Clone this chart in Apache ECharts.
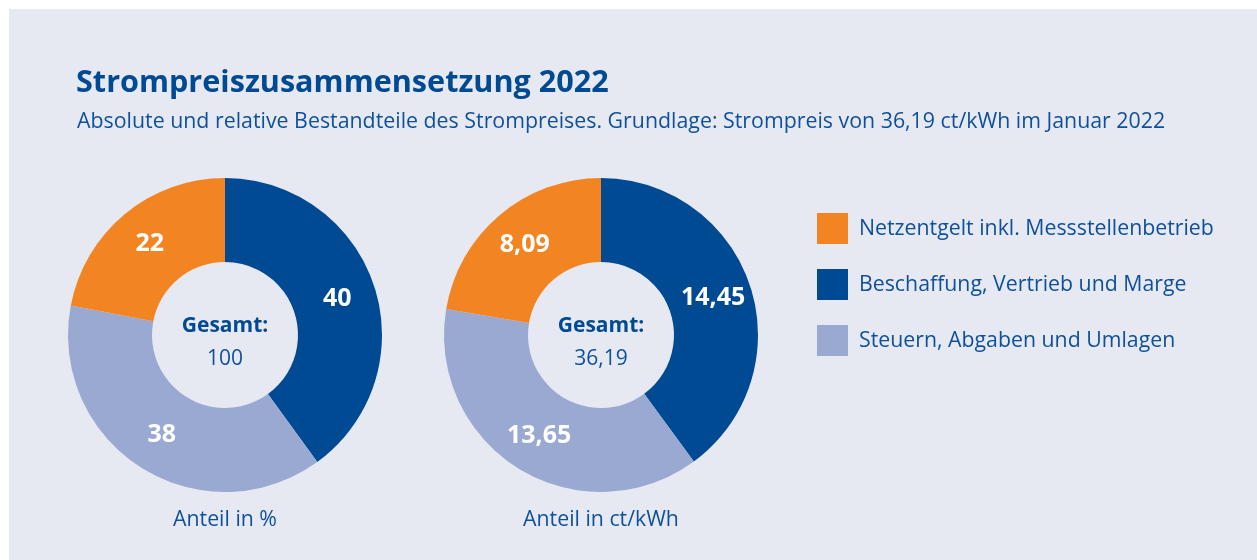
<!DOCTYPE html>
<html>
<head>
<meta charset="utf-8">
<script src="https://cdn.jsdelivr.net/npm/echarts@6/dist/echarts.min.js"></script>
<style>
html,body{margin:0;padding:0;background:#fff;}
#c{width:1257px;height:560px;}
</style>
</head>
<body>
<div id="c"></div>
<script>
const categories = ['Beschaffung, Vertrieb und Marge', 'Steuern, Abgaben und Umlagen', 'Netzentgelt inkl. Messstellenbetrieb'];
const legendOrder = ['Netzentgelt inkl. Messstellenbetrieb', 'Beschaffung, Vertrieb und Marge', 'Steuern, Abgaben und Umlagen'];
const pctValues = [40, 38, 22];
const ctValues = [14.45, 13.65, 8.09];
const pctTotal = '100';
const ctTotal = '36,19';
const colors = ['#004a93', '#9aa9d1', '#f38422'];

const FONT = '"Open Sans", "Noto Sans", sans-serif';
const TXT = '#0f509b';
const BOLD = '#004a93';

function fmt(v, dec) { return v.toFixed(dec).replace('.', ','); }

function pie(center, values, dec) {
  return {
    type: 'pie',
    center: center,
    radius: [73, 157],
    startAngle: 90,
    clockwise: true,
    avoidLabelOverlap: false,
    emphasis: { disabled: true },
    itemStyle: { borderWidth: 0 },
    label: {
      show: true,
      position: 'inside',
      color: '#fff',
      fontFamily: FONT,
      fontWeight: 'bold',
      fontSize: 25,
      formatter: p => fmt(p.value, dec)
    },
    labelLine: { show: false },
    data: categories.map((n, i) => ({ name: n, value: values[i], itemStyle: { color: colors[i] } }))
  };
}

function textAt(x, y, text, size, weight, color, align) {
  return { left: x, top: y, textAlign: align || 'center', text: text, padding: 0,
    textStyle: { fontFamily: FONT, fontSize: size, fontWeight: weight, color: color } };
}

const chart = echarts.init(document.getElementById('c'), null, { renderer: 'canvas' });
chart.setOption({
  backgroundColor: '#ffffff',
  animation: false,
  graphic: [{ type: 'rect', z: -10, shape: { x: 9, y: 9, width: 1300, height: 600 }, style: { fill: '#e6e9f2' } }],
  title: [
    textAt(76, 68, 'Strompreiszusammensetzung 2022', 30.6, 'bold', BOLD, 'left'),
    textAt(77, 111, 'Absolute und relative Bestandteile des Strompreises. Grundlage: Strompreis von 36,19 ct/kWh im Januar 2022', 21.35, 'normal', TXT, 'left'),
    textAt(225, 316, 'Gesamt:', 21, 'bold', BOLD),
    textAt(225, 349, pctTotal, 21, 'normal', TXT),
    textAt(601, 316, 'Gesamt:', 21, 'bold', BOLD),
    textAt(601, 349, ctTotal, 21, 'normal', TXT),
    textAt(225, 509, 'Anteil in %', 21.3, 'normal', TXT),
    textAt(601, 509, 'Anteil in ct/kWh', 21.3, 'normal', TXT)
  ],
  legend: {
    orient: 'vertical',
    left: 817,
    top: 213,
    padding: 0,
    icon: 'rect',
    itemWidth: 31,
    itemHeight: 31,
    itemGap: 25,
    selectedMode: false,
    data: legendOrder,
    textStyle: { fontFamily: FONT, fontSize: 21.3, color: TXT, padding: [4, 0, 0, 6] }
  },
  series: [
    pie([225, 335], pctValues, 0),
    pie([601, 335], ctValues, 2)
  ]
});
</script>
</body>
</html>
